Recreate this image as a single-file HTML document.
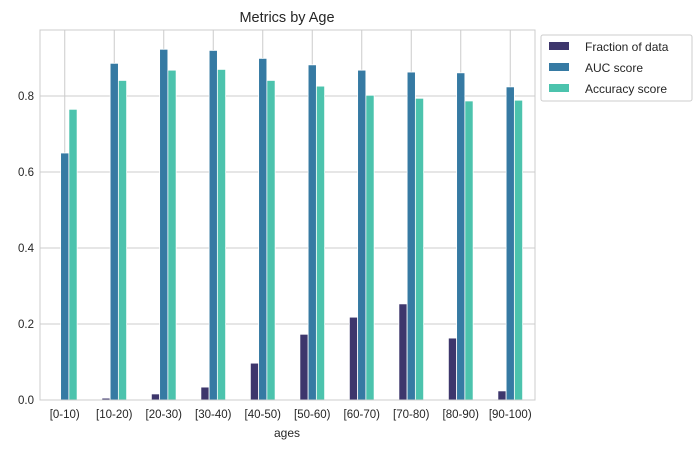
<!DOCTYPE html>
<html><head><meta charset="utf-8"><style>
body{margin:0;background:#fff;font-family:"Liberation Sans",Arial,sans-serif;}
svg text{font-family:"Liberation Sans",Arial,sans-serif;fill:#262626;}
</style></head><body>
<svg id="chart" width="698" height="449" xmlns="http://www.w3.org/2000/svg">
<rect width="698" height="449" fill="#fff"/>
<text x="287" y="22" font-size="14.5" text-anchor="middle">Metrics by Age</text>
<g id="grid"></g><g id="bars"></g><g id="axes"></g>
<g>
<rect x="541" y="35" width="151" height="66" fill="#fff" stroke="#cccccc" rx="2"/>
<rect x="549" y="42" width="20" height="8" fill="#3d366c"/>
<text x="585" y="51" font-size="12">Fraction of data</text>
<rect x="549" y="63" width="20" height="8" fill="#367aa3"/>
<text x="585" y="72" font-size="12">AUC score</text>
<rect x="549" y="84" width="20" height="8" fill="#4cc3ad"/>
<text x="585" y="93" font-size="12">Accuracy score</text>
</g>
<text x="287" y="437" font-size="12" text-anchor="middle">ages</text>
</svg>
<script>
const categories=["[0-10)","[10-20)","[20-30)","[30-40)","[40-50)","[50-60)","[60-70)","[70-80)","[80-90)","[90-100)"];
const fraction=[0,0.005,0.016,0.034,0.097,0.173,0.218,0.253,0.163,0.024];
const auc=[0.65,0.886,0.923,0.920,0.899,0.882,0.868,0.863,0.861,0.824];
const accuracy=[0.765,0.841,0.868,0.870,0.841,0.826,0.802,0.794,0.787,0.789];
const yTicks=[0,0.2,0.4,0.6,0.8];
const yTickLabels=["0.0","0.2","0.4","0.6","0.8"];
const NS="http://www.w3.org/2000/svg";
const L=40,R=535,T=30,B=400;
const yScale=v=>B-v*380;
const band=(R-L)/categories.length;
const xCenter=i=>L+band*(i+0.5);
function mk(tag,attrs,parent){const e=document.createElementNS(NS,tag);for(const k in attrs)e.setAttribute(k,attrs[k]);parent.appendChild(e);return e;}
const grid=document.getElementById('grid'),bars=document.getElementById('bars'),axes=document.getElementById('axes');
yTicks.forEach((t,i)=>{
 const l=mk('line',{x1:L,x2:R,y1:yScale(t),y2:yScale(t),stroke:'#cccccc','stroke-width':1},grid);
 
 
 const tx=mk('text',{x:L-6,y:yScale(t)+4,'font-size':11.5,'text-anchor':'end'},axes);
 tx.textContent=yTickLabels[i];
 
 
});
categories.forEach((c,i)=>{
 const l=mk('line',{x1:xCenter(i),x2:xCenter(i),y1:T,y2:B,stroke:'#cccccc','stroke-width':1},grid);
 
 
 const tx=mk('text',{x:xCenter(i),y:B+18,'font-size':11.5,'text-anchor':'middle'},axes);
 tx.textContent=c;
 
 
});
const series=[[fraction,'#3d366c','fraction'],[auc,'#367aa3','auc'],[accuracy,'#4cc3ad','accuracy']];
const bw=band*0.5/3;
series.forEach((s,si)=>{
 s[0].forEach((v,i)=>{
  const x=xCenter(i)-band*0.25+si*bw;
  const r=mk('rect',{x:x,y:yScale(v),width:bw,height:B-yScale(v),fill:s[1],stroke:'#fff','stroke-width':0.8},bars);
  
  
 });
});
const frame=mk('rect',{x:L,y:T,width:R-L,height:B-T,fill:'none',stroke:'#cccccc','stroke-width':1},axes);


</script>
</body></html>
